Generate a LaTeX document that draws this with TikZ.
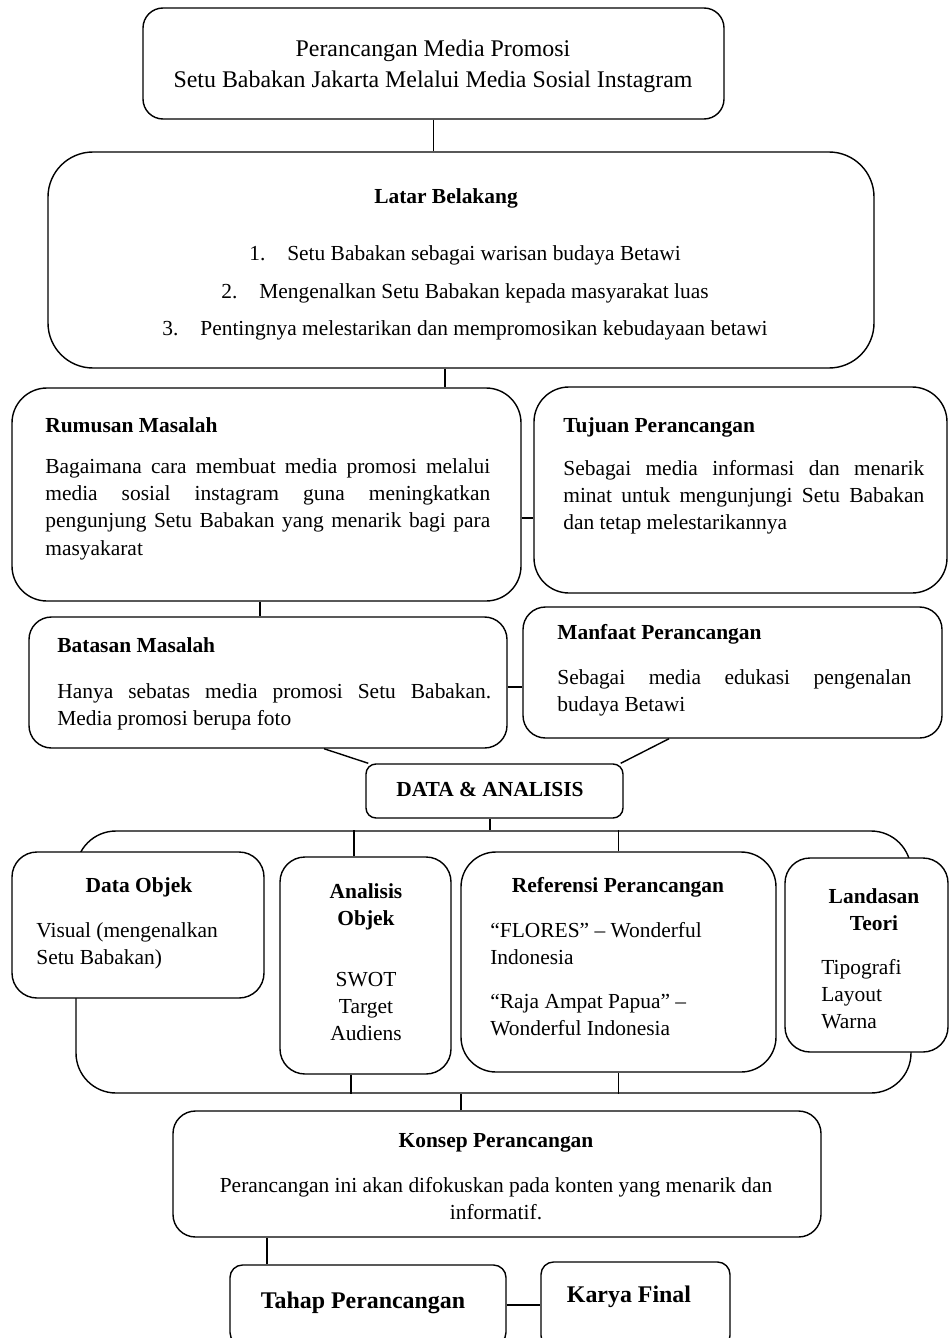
\documentclass[tikz,border=0pt]{standalone}
\usepackage{fontspec}
\setmainfont{Liberation Serif}
\usetikzlibrary{positioning, fit, calc}
\newcommand{\bodysize}{\fontsize{12.2}{15.6}\selectfont}
\newcommand{\bigsize}{\fontsize{13.6}{17.6}\selectfont}
\hyphenpenalty=10000
\exhyphenpenalty=10000
\tikzset{
	boxnode/.style={draw=black, line width=0.8pt, fill=white, rectangle, inner sep=0pt}
}
\tikzset{
	headtext/.style={font=\bodysize\bfseries, inner sep=0pt}
}
\tikzset{
	bodytext/.style={font=\bodysize, inner sep=0pt}
}
\tikzset{
	bigtext/.style={font=\bigsize, inner sep=0pt}
}
\tikzset{
	linkline/.style={line width=0.8pt}
}

\begin{document}
\begin{tikzpicture}[x=0.02cm, y=-0.02cm]

			\useasboundingbox (0,0) rectangle (949,1338);
			\clip (0,0) rectangle (949,1338);

			\node[boxnode, fill=none, rounded corners=0.8cm, fit={(76,831) (911,1093)}] (frame) {};

			\begin{scope}
				\node[boxnode, rounded corners=0.4cm, fit={(143,8) (724,119)}] (title) {};
				\node[boxnode, rounded corners=0.9cm, fit={(48,152) (874,368)}] (latar) {};
				\node[boxnode, rounded corners=0.7cm, fit={(12,388) (521,601)}] (rumusan) {};
				\node[boxnode, rounded corners=0.7cm, fit={(534,387) (947,593)}] (tujuan) {};
				\node[boxnode, rounded corners=0.45cm, fit={(29,617) (507,748)}] (batasan) {};
				\node[boxnode, rounded corners=0.45cm, fit={(523,607) (942,738)}] (manfaat) {};
				\node[boxnode, rounded corners=0.2cm, fit={(366,764) (623,818)}] (data) {};
				\node[boxnode, rounded corners=0.5cm, fit={(12,852) (264,998)}] (objek) {};
				\node[boxnode, rounded corners=0.5cm, fit={(280,857) (451,1074)}] (analisis) {};
				\node[boxnode, rounded corners=0.7cm, fit={(461,852) (776,1072)}] (referensi) {};
				\node[boxnode, rounded corners=0.5cm, fit={(785,858) (948,1052)}] (landasan) {};
				\node[boxnode, rounded corners=0.45cm, fit={(173,1111) (821,1237)}] (konsep) {};
				\node[boxnode, rounded corners=0.25cm, fit={(230,1265) (506,1345)}] (tahap) {};
				\node[boxnode, rounded corners=0.25cm, fit={(541,1262) (730,1348)}] (karya) {};
			\end{scope}

			\begin{scope}
				\draw[linkline] (title.south) -- (title.south |- latar.north);
				\coordinate (lb) at ([xshift=-0.32cm]latar.south);
				\draw[linkline] (lb) -- (lb |- rumusan.north);
				\coordinate (rt) at ([yshift=-0.47cm]rumusan.east);
				\draw[linkline] (rt) -- (rt -| tujuan.west);
				\coordinate (rb) at ([xshift=-0.13cm]rumusan.south);
				\draw[linkline] (rb) -- (rb |- batasan.north);
				\coordinate (bm) at ([yshift=-0.09cm]batasan.east);
				\draw[linkline] (bm) -- (bm -| manfaat.west);
				\draw[linkline] ([xshift=1.12cm]batasan.south) -- ([xshift=0.06cm]data.north west);
				\draw[linkline] ([xshift=-1.27cm]manfaat.south) -- ([xshift=-0.06cm]data.north east);
				\coordinate (db) at ([xshift=-0.09cm]data.south);
				\draw[linkline] (db) -- (db |- frame.north);
				\coordinate (at) at ([xshift=-0.23cm]analisis.north);
				\draw[linkline] (at) -- (at |- frame.north);
				\draw[linkline] (referensi.north) -- (referensi.north |- frame.north);
				\coordinate (ab) at ([xshift=-0.29cm]analisis.south);
				\draw[linkline] (ab) -- (ab |- frame.south);
				\draw[linkline] (referensi.south) -- (referensi.south |- frame.south);
				\coordinate (kt) at ([xshift=-0.72cm]konsep.north);
				\draw[linkline] (kt) -- (kt |- frame.south);
				\coordinate (tt) at ([xshift=-2.02cm]tahap.north);
				\draw[linkline] (tt) -- (tt |- konsep.south);
				\draw[linkline] (tahap.east) -- (tahap.east -| karya.west);
			\end{scope}

			\begin{scope}
				\node[bigtext, text width=12cm, align=flush center, anchor=base] (titletext) at (433,57) {Perancangan Media Promosi\\Setu Babakan Jakarta Melalui Media Sosial Instagram};

				\node[headtext, anchor=base] (latarhead) at (446,204) {Latar Belakang};
				\node[bodytext, anchor=base] (latar1) at (465,260) {\makebox[0.76cm][l]{1.}Setu Babakan sebagai warisan budaya Betawi};
				\node[bodytext, anchor=base] (latar2) at (465,298) {\makebox[0.76cm][l]{2.}Mengenalkan Setu Babakan kepada masyarakat luas};
				\node[bodytext, anchor=base] (latar3) at (465,335) {\makebox[0.76cm][l]{3.}Pentingnya melestarikan dan mempromosikan kebudayaan betawi};

				\node[headtext, anchor=base west] (rumusanhead) at (45,432) {Rumusan Masalah};
				\node[bodytext, text width=8.9cm, align=justify, anchor=base west] (rumusanbody) at (45,473) {Bagaimana cara membuat media promosi melalui\linebreak media sosial instagram guna meningkatkan\linebreak pengunjung Setu Babakan yang menarik bagi para\linebreak masyakarat};

				\node[headtext, anchor=base west] (tujuanhead) at (563,432) {Tujuan Perancangan};
				\node[bodytext, text width=7.22cm, align=justify, anchor=base west] (tujuanbody) at (563,475) {Sebagai media informasi dan menarik\linebreak minat untuk mengunjungi Setu Babakan\linebreak dan tetap melestarikannya};

				\node[headtext, anchor=base west] (batasanhead) at (57,652) {Batasan Masalah};
				\node[bodytext, text width=8.68cm, align=justify, anchor=base west] (batasanbody) at (57,698) {Hanya sebatas media promosi Setu Babakan.\linebreak Media promosi berupa foto};

				\node[headtext, anchor=base west] (manfaathead) at (557,639) {Manfaat Perancangan};
				\node[bodytext, text width=7.08cm, align=justify, anchor=base west] (manfaatbody) at (557,684) {Sebagai media edukasi pengenalan\linebreak budaya Betawi};

				\node[headtext, anchor=base] (datatext) at (490,796) {DATA \& ANALISIS};

				\node[headtext, anchor=base] (objekhead) at (139,892) {Data Objek};
				\node[bodytext, text width=4.6cm, align=flush left, anchor=base west] (objekbody) at (36,937) {Visual (mengenalkan\\Setu Babakan)};

				\node[headtext, text width=3cm, align=flush center, anchor=base] (analisishead) at (366,898) {Analisis\\Objek};
				\node[bodytext, text width=3cm, align=flush center, anchor=base] (analisisbody) at (366,986) {SWOT\\Target\\Audiens};

				\node[headtext, anchor=base] (referensihead) at (618,892) {Referensi Perancangan};
				\node[bodytext, text width=5.6cm, align=flush left, anchor=base west] (referensibody) at (490,937) {“FLORES” – Wonderful\\Indonesia\\[9.5pt]“Raja Ampat Papua” –\\Wonderful Indonesia};

				\node[headtext, text width=3cm, align=flush center, anchor=base] (landasanhead) at (874,903) {Landasan\\Teori};
				\node[bodytext, text width=2.4cm, align=flush left, anchor=base west] (landasanbody) at (821,974) {Tipografi\\Layout\\Warna};

				\node[headtext, anchor=base] (konsephead) at (496,1147) {Konsep Perancangan};
				\node[bodytext, text width=12cm, align=flush center, anchor=base] (konsepbody) at (496,1192) {Perancangan ini akan difokuskan pada konten yang menarik dan\\informatif.};

				\node[bigtext, font=\bigsize\bfseries, anchor=base] (tahaptext) at (363,1308) {Tahap Perancangan};
				\node[bigtext, font=\bigsize\bfseries, anchor=base] (karyatext) at (629,1302) {Karya Final};
			\end{scope}

		\end{tikzpicture}
\end{document}
